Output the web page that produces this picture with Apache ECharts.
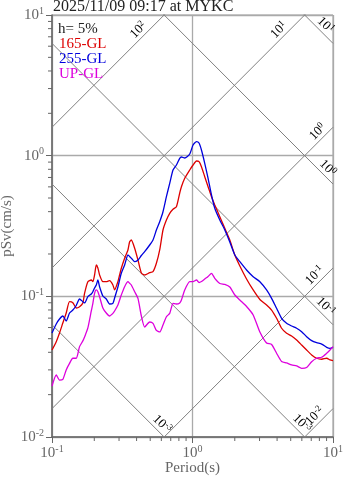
<!DOCTYPE html>
<html>
<head>
<meta charset="utf-8">
<script src="https://cdn.jsdelivr.net/npm/echarts@6/dist/echarts.min.js"></script>
<style>
  html, body { margin: 0; padding: 0; background: #fff; }
  #chart { width: 347px; height: 478px; }
</style>
</head>
<body>
<div id="chart"></div>
<script>
// Tripartite pseudo-velocity response spectrum (h = 5%)
const FONT = '"Liberation Serif", "Times New Roman", serif';

const titleText = '2025/11/09 09:17 at MYKC';
const dampingNote = 'h= 5%';
const seriesNames = ['165-GL', '255-GL', 'UP-GL'];
const seriesColors = ['#dd0000', '#0000dd', '#dd00dd'];

// Period (s)
const periods = [0.1, 0.1072, 0.1131, 0.1194, 0.1262, 0.1333, 0.1407, 0.1488, 0.1571, 0.1658,
  0.1705, 0.18, 0.1904, 0.1954, 0.2009, 0.2066, 0.2121, 0.2181, 0.2302, 0.2434,
  0.257, 0.2713, 0.279, 0.2945, 0.3028, 0.3114, 0.3288, 0.3471, 0.3569, 0.367,
  0.3875, 0.4091, 0.4325, 0.4566, 0.4957, 0.5233, 0.5533, 0.5842, 0.6166, 0.6521,
  0.6884, 0.7266, 0.7683, 0.8111, 0.8341, 0.8806, 0.9559, 1.009, 1.067, 1.113,
  1.158, 1.222, 1.291, 1.365, 1.441, 1.564, 1.698, 1.843, 2.001, 2.173,
  2.425, 2.703, 3.017, 3.367, 3.656, 3.968, 4.308, 4.675, 5.075, 5.509,
  5.981, 6.492, 7.048, 7.649, 8.306, 9.016, 9.52, 10];

// pSv (cm/s), component 165-GL
const sv165 = [0.0415, 0.0476, 0.0549, 0.0646, 0.0761, 0.0916, 0.0901, 0.0826, 0.0844, 0.0897,
  0.1051, 0.1271, 0.1306, 0.1271, 0.1418, 0.167, 0.159, 0.1418, 0.1271, 0.1271,
  0.1292, 0.1204, 0.111, 0.1271, 0.1418, 0.1582, 0.1864, 0.2136, 0.2446, 0.2515,
  0.2196, 0.1813, 0.1465, 0.1418, 0.1472, 0.1497, 0.1717, 0.2136, 0.2962, 0.3489,
  0.3893, 0.4156, 0.4337, 0.5429, 0.6017, 0.6904, 0.791, 0.8584, 0.9165, 0.9061,
  0.8347, 0.7087, 0.6017, 0.5108, 0.4461, 0.3683, 0.3045, 0.2515, 0.1967, 0.1643,
  0.1328, 0.111, 0.095, 0.0868, 0.0799, 0.0698, 0.0593, 0.0546, 0.0522, 0.0489,
  0.0451, 0.0415, 0.0383, 0.0363, 0.0357, 0.0363, 0.0353, 0.0349];

// pSv (cm/s), component 255-GL
const sv255 = [0.0549, 0.0636, 0.069, 0.0725, 0.0668, 0.0761, 0.0799, 0.0861, 0.0957, 0.0916,
  0.0897, 0.0994, 0.1039, 0.1079, 0.1146, 0.1204, 0.1306, 0.1171, 0.1006, 0.0957,
  0.0882, 0.0892, 0.0973, 0.1165, 0.1306, 0.1458, 0.167, 0.1967, 0.192, 0.1864,
  0.1763, 0.1813, 0.1952, 0.2077, 0.2317, 0.2515, 0.2962, 0.3393, 0.3995, 0.5108,
  0.6361, 0.791, 0.8584, 0.9579, 0.9784, 0.9625, 1.0278, 1.191, 1.2568, 1.2304,
  1.0973, 0.8827, 0.6904, 0.5253, 0.4226, 0.3489, 0.2962, 0.2434, 0.1967, 0.1763,
  0.1539, 0.1379, 0.1271, 0.111, 0.0968, 0.0822, 0.0698, 0.0643, 0.0615, 0.0593,
  0.0561, 0.0516, 0.0484, 0.0468, 0.0458, 0.0434, 0.0427, 0.0434];

// pSv (cm/s), vertical component
const svUP = [0.023, 0.0276, 0.0254, 0.0257, 0.03, 0.0334, 0.0363, 0.0363, 0.0439, 0.0482,
  0.0514, 0.0596, 0.0787, 0.0892, 0.1051, 0.111, 0.1079, 0.0994, 0.0826, 0.0761,
  0.0725, 0.0757, 0.0787, 0.0868, 0.0942, 0.1022, 0.1171, 0.1271, 0.1238, 0.1204,
  0.1079, 0.0968, 0.0725, 0.0605, 0.0657, 0.0643, 0.0572, 0.0558, 0.0626, 0.0716,
  0.0757, 0.0889, 0.0882, 0.0897, 0.0942, 0.111, 0.1271, 0.1271, 0.1306, 0.1254,
  0.1275, 0.1328, 0.1384, 0.1458, 0.1343, 0.1234, 0.1214, 0.1165, 0.1022, 0.0942,
  0.0847, 0.0737, 0.0558, 0.0466, 0.0455, 0.0394, 0.0344, 0.0336, 0.0325, 0.032,
  0.0308, 0.0312, 0.0343, 0.0363, 0.0369, 0.0394, 0.0415, 0.0439];

const seriesValues = [sv165, sv255, svUP];

// Axis ranges and decade tick labels (exponents of 10)
const periodRange = [0.1, 10];
const svRange = [0.01, 10];
const xTickExps = [-1, 0, 1];
const yTickExps = [-2, -1, 0, 1];

// Constant pseudo-acceleration lines (pSv = A*T/2pi) and their labels
const accelLevels = [100, 10, 1, 0.1, 0.01];
const accelLabels = ['2', '1', '0', '-1', '-2'];
const accelLabelPeriods = [0.45, 4.5, 8.5, 8.1, 8.1];

// Constant displacement lines (pSv = 2pi*D/T) and their labels
const dispLevels = [10, 1, 0.1, 0.01, 0.001];
const dispLabels = ['1', '0', '-1', '-3', '-3'];
const dispLabelPeriods = [8.1, 8.4, 8.1, 5.5, 0.556];

const TWO_PI = 2 * Math.PI;
const AXIS_GRAY = '#666';
const DIAG_GRAY = '#808080';

const pow10Text = e => '{b|10}{s|' + e + '}';
const expOf = v => Math.round(Math.log10(v));

const tickRich = {
  b: { fontFamily: FONT, fontSize: 15, color: AXIS_GRAY, lineHeight: 18 },
  s: { fontFamily: FONT, fontSize: 10, color: AXIS_GRAY, lineHeight: 11, verticalAlign: 'top' }
};
const diagRich = {
  b: { fontFamily: FONT, fontSize: 13, color: '#777', lineHeight: 15 },
  s: { fontFamily: FONT, fontSize: 9, color: '#777', lineHeight: 10, verticalAlign: 'top' }
};

const series = [];

// Tripartite diagonal grid
accelLevels.forEach(a => {
  series.push({
    type: 'line', silent: true, symbol: 'none', z: 1, clip: true,
    data: periodRange.map(t => [t, a * t / TWO_PI]),
    lineStyle: { color: DIAG_GRAY, width: 1 }
  });
});
dispLevels.forEach(d => {
  series.push({
    type: 'line', silent: true, symbol: 'none', z: 1, clip: true,
    data: periodRange.map(t => [t, TWO_PI * d / t]),
    lineStyle: { color: DIAG_GRAY, width: 1 }
  });
});

// Labels along the diagonal lines
const diagLabelItems = [];
accelLevels.forEach((a, i) => diagLabelItems.push({
  value: [accelLabelPeriods[i], a * accelLabelPeriods[i] / TWO_PI], exp: accelLabels[i], up: true
}));
dispLevels.forEach((d, i) => diagLabelItems.push({
  value: [dispLabelPeriods[i], TWO_PI * d / dispLabelPeriods[i]], exp: dispLabels[i], up: false
}));
series.push({
  type: 'custom', silent: true, z: 2, clip: false,
  data: diagLabelItems.map(it => it.value),
  renderItem(params, api) {
    const it = diagLabelItems[params.dataIndex];
    const p = api.coord(it.value);
    const n = 7.5 * Math.SQRT1_2;
    return {
      type: 'text',
      x: p[0] + (it.up ? -n : n),
      y: p[1] - n,
      rotation: it.up ? Math.PI / 4 : -Math.PI / 4,
      style: { text: pow10Text(it.exp), rich: diagRich, align: 'center', verticalAlign: 'middle' }
    };
  }
});

// Minor ticks at 2..9 within each decade
const minorX = [];
for (let e = xTickExps[0]; e < xTickExps[xTickExps.length - 1]; e++) {
  for (let m = 2; m < 10; m++) minorX.push([m * Math.pow(10, e), svRange[0]]);
}
const minorY = [];
for (let e = yTickExps[0]; e < yTickExps[yTickExps.length - 1]; e++) {
  for (let m = 2; m < 10; m++) minorY.push([periodRange[0], m * Math.pow(10, e)]);
}
series.push({
  type: 'custom', silent: true, z: 3, clip: false, data: minorX,
  renderItem(params, api) {
    const p = api.coord([api.value(0), api.value(1)]);
    return { type: 'line', shape: { x1: p[0], y1: p[1], x2: p[0], y2: p[1] + 4 },
      style: { stroke: AXIS_GRAY, lineWidth: 1 } };
  }
});
series.push({
  type: 'custom', silent: true, z: 3, clip: false, data: minorY,
  renderItem(params, api) {
    const p = api.coord([api.value(0), api.value(1)]);
    return { type: 'line', shape: { x1: p[0] - 4, y1: p[1], x2: p[0], y2: p[1] },
      style: { stroke: AXIS_GRAY, lineWidth: 1 } };
  }
});

// Response spectra
seriesNames.forEach((name, i) => {
  series.push({
    name, type: 'line', symbol: 'none', smooth: 0.2, z: 5 + i,
    data: periods.map((t, k) => [t, seriesValues[i][k]]),
    lineStyle: { color: seriesColors[i], width: 1.3 },
    itemStyle: { color: seriesColors[i] }
  });
});

const chart = echarts.init(document.getElementById('chart'));
chart.setOption({
  animation: false,
  backgroundColor: '#fff',
  title: [
    { text: titleText, left: 53, top: -1, padding: 0,
      textStyle: { fontFamily: FONT, fontSize: 16, fontWeight: 'normal', color: '#222' } },
    { text: dampingNote, left: 58, top: 22, padding: 0,
      textStyle: { fontFamily: FONT, fontSize: 15, fontWeight: 'normal', color: '#222', lineHeight: 15 } }
  ],
  legend: {
    left: 53, top: 36.5, orient: 'vertical', padding: 0,
    itemWidth: 0, itemHeight: 0, itemGap: 0, selectedMode: false,
    data: seriesNames.map((n, i) => ({ name: n, textStyle: { color: seriesColors[i] } })),
    textStyle: { fontFamily: FONT, fontSize: 15, lineHeight: 14.5 }
  },
  grid: {
    left: 52, right: 14, top: 15, bottom: 41, show: true, borderColor: '#999', borderWidth: 1,
    containLabel: false, outerBoundsMode: 'none'
  },
  xAxis: {
    type: 'log', logBase: 10, min: periodRange[0], max: periodRange[1],
    name: 'Period(s)', nameLocation: 'middle', nameGap: 24, nameMoveOverlap: false,
    nameTextStyle: { fontFamily: FONT, fontSize: 15, color: AXIS_GRAY },
    axisLine: { show: true, onZero: false, lineStyle: { color: AXIS_GRAY, width: 1.5 } },
    axisTick: { show: true, length: 6, lineStyle: { color: AXIS_GRAY } },
    axisLabel: { margin: 7, formatter: v => pow10Text(expOf(v)), rich: tickRich },
    splitLine: { show: true, lineStyle: { color: '#aaa', width: 1.3 } }
  },
  yAxis: {
    type: 'log', logBase: 10, min: svRange[0], max: svRange[1],
    name: 'pSv(cm/s)', nameLocation: 'middle', nameGap: 37, nameMoveOverlap: false,
    nameTextStyle: { fontFamily: FONT, fontSize: 15, color: AXIS_GRAY },
    axisLine: { show: true, onZero: false, lineStyle: { color: AXIS_GRAY, width: 1.5 } },
    axisTick: { show: true, length: 6, lineStyle: { color: AXIS_GRAY } },
    axisLabel: { margin: 8, formatter: v => pow10Text(expOf(v)), rich: tickRich },
    splitLine: { show: true, lineStyle: { color: '#aaa', width: 1.3 } }
  },
  series
});
</script>
</body>
</html>
